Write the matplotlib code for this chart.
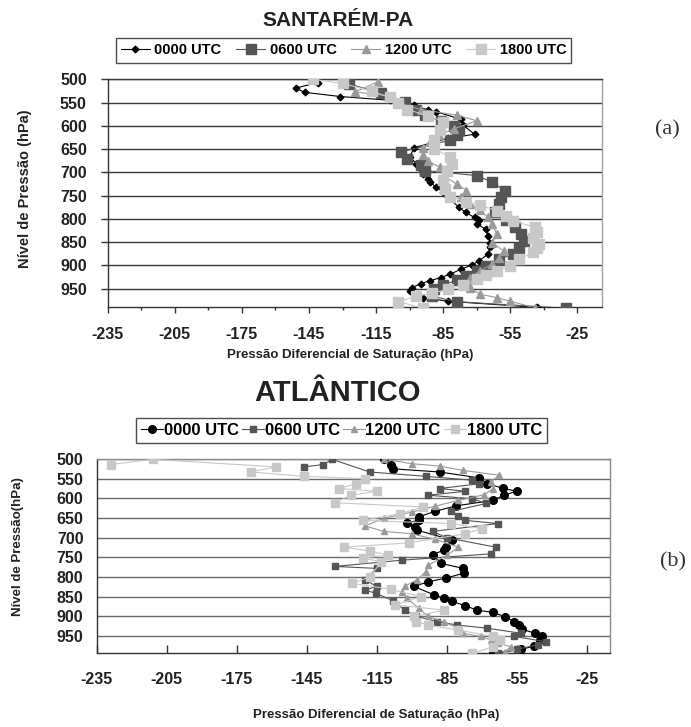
import matplotlib
matplotlib.use("Agg")
import matplotlib.pyplot as plt
from matplotlib.ticker import MultipleLocator, FixedLocator
from matplotlib.lines import Line2D

plt.rcParams['font.family'] = ['Liberation Sans', 'DejaVu Sans']
plt.rcParams['font.weight'] = 'bold'
plt.rcParams['axes.unicode_minus'] = False

series_names = ['0000 UTC', '0600 UTC', '1200 UTC', '1800 UTC']
colors = ['#000000', '#555555', '#9a9a9a', '#c8c8c8']

# ---- Santarem-PA (a): pressure level (hPa) and saturation deficit (hPa)
sant_p_0000 = [507, 519, 528, 537, 545, 555, 566, 570, 586, 599, 618, 627, 647, 667, 681, 692,
               703, 714, 721, 732, 743, 753, 775, 786, 797, 802, 811, 822, 836, 851, 861, 876,
               890, 899, 908, 919, 926, 933, 939, 948, 955, 969, 977, 990]
sant_x_0000 = [-141, -151, -147, -131, -109, -98, -92, -88, -77, -76, -71, -83, -98, -100, -97, -95,
               -94, -92, -91, -88, -85, -83, -78, -75, -71, -69, -70, -66, -65, -64, -64, -65,
               -69, -72, -77, -82, -86, -91, -95, -99, -100, -94, -83, -43]

sant_p_0600 = [500, 510, 530, 548, 565, 577, 590, 600, 609, 620, 631, 656, 671, 685, 696, 707,
               721, 739, 753, 768, 785, 803, 818, 832, 847, 862, 876, 887, 901, 912, 922, 932,
               942, 951, 966, 978, 992]
sant_x_0600 = [-127.5, -127, -113, -102, -97, -93, -86, -80, -78, -79, -82, -104, -101, -95, -93, -70,
               -63, -57.5, -59, -60, -62, -57, -53, -50, -49, -51, -54, -60, -66, -70, -75, -79,
               -85, -89, -90, -79, -30]

sant_p_1200 = [505, 527, 536, 552, 565, 577, 589, 606, 620, 635, 647, 663, 675, 689, 707, 725,
               739, 753, 768, 781, 797, 811, 833, 851, 869, 883, 897, 912, 926, 937, 948, 962,
               969, 977, 991]
sant_x_1200 = [-114, -124.5, -109, -104, -95, -79, -70, -80, -87, -91, -94, -94, -92, -86.5, -85, -79,
               -74.6, -77, -73, -68.6, -65, -63, -61, -63, -58, -60, -63, -68.6, -73, -74, -73, -68.6,
               -61, -55, -44]

sant_p_1800 = [500, 509, 525, 539, 552, 565, 578, 591, 609, 631, 649, 667, 681, 696, 717, 735,
               752, 763, 771, 782, 793, 804, 818, 829, 840, 854, 863, 872, 887, 901, 912, 921,
               930, 941, 951, 960, 966, 978, 992]
sant_x_1800 = [-143, -130, -117, -109, -105, -101, -92, -85, -86.5, -89, -89, -82, -81, -83.5, -85, -84,
               -82, -75, -68.6, -61, -57, -54, -44, -43, -45, -42, -43, -45, -51, -55, -61, -66,
               -70, -76, -83, -90, -97, -105, -94]

# ---- Atlantico (b)
atl_p_0000 = [499, 516, 525, 533, 548, 563, 574, 582, 592, 605, 619, 633, 647, 655, 663, 673,
              681, 706, 723, 731, 743, 765, 778, 790, 803, 812, 824, 845, 854, 862, 873, 884,
              890, 901, 913, 922, 933, 943, 951, 960, 975, 984, 994]
atl_x_0000 = [-112, -109, -108, -88, -71, -67.6, -61, -55, -60.5, -65, -81, -90, -97, -97, -102, -98.4,
              -97.6, -82.6, -85.5, -86, -91, -87.6, -78, -77.6, -85.5, -93, -99, -90.5, -86, -82.6, -77, -72,
              -65, -60, -56, -54, -52.6, -47, -44, -45, -47.6, -53, -65]

atl_p_0600 = [520, 514, 501, 533, 544, 554, 563, 575, 582, 592, 601, 613, 633, 644, 656, 664,
              684, 700, 724, 741, 757, 773, 778, 807, 824, 833, 841, 860, 884, 900, 913, 922,
              930, 943, 951, 964, 972, 984, 994]
atl_x_0600 = [-146, -138, -134, -118, -94, -74, -71, -88, -77, -93, -74, -68, -83, -80, -77, -63,
              -91, -85, -64, -66, -104, -133, -115, -120, -115, -120, -115.5, -108, -103, -98, -89, -80.5,
              -67.6, -53, -56, -42.6, -46, -55, -63]

atl_p_1200 = [500, 512, 518, 529, 541, 558, 575, 591, 605, 620, 635, 651, 670, 684, 690, 704,
              724, 745, 770, 786, 807, 823, 838, 854, 879, 900, 915, 930, 943, 951, 960, 968,
              977, 990]
atl_x_1200 = [-112, -100, -88, -78, -62.6, -66, -65, -69, -80, -90, -100, -112, -120, -112, -100, -90,
              -80, -85, -93, -94, -97.6, -103, -104, -102, -97, -93, -86, -80, -78, -70.5, -66, -63,
              -57.6, -60]

atl_p_1800 = [514, 501, 520, 533, 544, 550, 563, 575, 582, 592, 611, 622, 639, 656, 664, 677,
              690, 713, 724, 734, 744, 752, 761, 800, 816, 831, 850, 871, 884, 900, 913, 922,
              935, 951, 960, 977, 994]
atl_x_1800 = [-229, -211, -158, -169, -146, -120, -124, -131, -115, -126, -133, -95, -105, -121, -83, -70,
              -77, -101, -129, -118, -110, -121, -113, -118, -125.5, -109, -96, -107, -86, -99, -98, -93,
              -80, -65, -62, -65, -74]

x_ticks = [-235, -205, -175, -145, -115, -85, -55, -25]
y_ticks = [500, 550, 600, 650, 700, 750, 800, 850, 900, 950]

W, H = 691, 727
fig = plt.figure(figsize=(W / 100, H / 100), dpi=100)


def box(left, top, right, bottom):
    return [left / W, 1 - bottom / H, (right - left) / W, (bottom - top) / H]


# ================= (a) SANTAREM =================
ax1 = fig.add_axes(box(107.7, 79.3, 602, 307.3))
sant = [(sant_x_0000, sant_p_0000), (sant_x_0600, sant_p_0600),
        (sant_x_1200, sant_p_1200), (sant_x_1800, sant_p_1800)]
mk1 = ['D', 's', '^', 's']
ms1 = [3.4, 6.5, 5.5, 6.5]
order = [3, 2, 1, 0]
for i in order:
    x, p = sant[i]
    ax1.plot(x, p, color=colors[i], lw=0.8, marker=mk1[i], ms=ms1[i],
             mfc=colors[i], mec=colors[i], zorder=3 + i)

ax1.set_xlim(-235, -14)
ax1.set_ylim(990, 500)
ax1.xaxis.set_major_locator(FixedLocator(x_ticks))
ax1.xaxis.set_minor_locator(MultipleLocator(15, offset=-235 % 15))
ax1.yaxis.set_major_locator(FixedLocator(y_ticks))
ax1.yaxis.grid(True, color='#3a3a3a', lw=1.0)
ax1.set_axisbelow(True)
ax1.tick_params(axis='x', which='major', direction='out', length=4, width=1,
                color='#333333', labelsize=11.5, pad=10, labelcolor='#222222')
ax1.tick_params(axis='x', which='minor', direction='out', length=2.5, width=1, color='#333333')
ax1.tick_params(axis='y', direction='out', length=5, width=1, color='#333333',
                labelsize=11.5, pad=10, labelcolor='#222222')
ax1.spines['left'].set_color('#333333')
ax1.spines['bottom'].set_color('#333333')
ax1.spines['top'].set_color('#3a3a3a')
ax1.spines['right'].set_color('#a0a0a0')
for s in ax1.spines.values():
    s.set_linewidth(1.0)

fig.text(338 / W, 1 - 20 / H, 'SANTARÉM-PA', ha='center', va='center', fontsize=15,
         fontweight='bold', color='#222222')
fig.text(25 / W, 1 - 189 / H, 'Nível de Pressão (hPa)', rotation=90, ha='center',
         va='center', fontsize=10.5, fontweight='bold', color='#222222')
fig.text(350 / W, 1 - 355 / H, 'Pressão Diferencial de Saturação (hPa)', ha='center',
         va='center', fontsize=9.5, fontweight='bold', color='#222222')
fig.text(667 / W, 1 - 130 / H, '(a)', ha='center', va='center', fontsize=16,
         family=['Liberation Serif', 'DejaVu Serif'], fontweight='normal', color='#333333')

h1 = [Line2D([], [], color=colors[i], lw=0.8, marker=mk1[i], ms=ms1[i],
             mfc=colors[i], mec=colors[i]) for i in range(4)]
leg1 = fig.legend(h1, series_names, loc='center', bbox_to_anchor=(343.5 / W, 1 - 50.5 / H),
                  ncol=4, frameon=True, fancybox=False, edgecolor='#222222',
                  prop={'size': 10.5, 'weight': 'bold'}, handlelength=2.0,
                  handletextpad=0.3, columnspacing=1.0, borderpad=0.35)
leg1.get_frame().set_linewidth(1.0)

# ================= (b) ATLANTICO =================
ax2 = fig.add_axes(box(96.7, 459, 610, 653))
atl = [(atl_x_0000, atl_p_0000), (atl_x_0600, atl_p_0600),
       (atl_x_1200, atl_p_1200), (atl_x_1800, atl_p_1800)]
mk2 = ['o', 's', '^', 's']
ms2 = [5.5, 5.0, 4.5, 5.5]
for i in order:
    x, p = atl[i]
    ax2.plot(x, p, color=colors[i], lw=0.8, marker=mk2[i], ms=ms2[i],
             mfc=colors[i], mec=colors[i], zorder=3 + i)

ax2.set_xlim(-235, -15)
ax2.set_ylim(993, 500)
ax2.xaxis.set_major_locator(FixedLocator(x_ticks))
ax2.yaxis.set_major_locator(FixedLocator(y_ticks))
ax2.yaxis.grid(True, color='#6a6a6a', lw=1.0)
ax2.set_axisbelow(True)
ax2.tick_params(axis='x', direction='in', length=6, width=1, color='#333333',
                labelsize=11.5, pad=14, labelcolor='#222222')
ax2.tick_params(axis='y', length=0, labelsize=11.5, pad=9.5, labelcolor='#222222')
ax2.spines['left'].set_color('#333333')
ax2.spines['bottom'].set_color('#333333')
ax2.spines['top'].set_color('#8a8a8a')
ax2.spines['right'].set_color('#8a8a8a')
for s in ax2.spines.values():
    s.set_linewidth(1.0)

fig.text(338 / W, 1 - 393 / H, 'ATLÂNTICO', ha='center', va='center', fontsize=21,
         fontweight='bold', color='#222222')
fig.text(18 / W, 1 - 547 / H, 'Nível de Pressão(hPa)', rotation=90, ha='center',
         va='center', fontsize=9.5, fontweight='bold', color='#222222')
fig.text(376 / W, 1 - 715 / H, 'Pressão Diferencial de Saturação (hPa)', ha='center',
         va='center', fontsize=9.5, fontweight='bold', color='#222222')
fig.text(673 / W, 1 - 562 / H, '(b)', ha='center', va='center', fontsize=16,
         family=['Liberation Serif', 'DejaVu Serif'], fontweight='normal', color='#333333')

h2 = [Line2D([], [], color=colors[i], lw=0.8, marker=mk2[i], ms=ms2[i],
             mfc=colors[i], mec=colors[i]) for i in range(4)]
leg2 = fig.legend(h2, series_names, loc='center', bbox_to_anchor=(341.5 / W, 1 - 430.5 / H),
                  ncol=4, frameon=True, fancybox=False, edgecolor='#222222',
                  prop={'size': 12, 'weight': 'bold'}, handlelength=1.3,
                  handletextpad=0.05, columnspacing=0.2, borderpad=0.3)
leg2.get_frame().set_linewidth(1.0)

fig.savefig('out.png', dpi=100)
